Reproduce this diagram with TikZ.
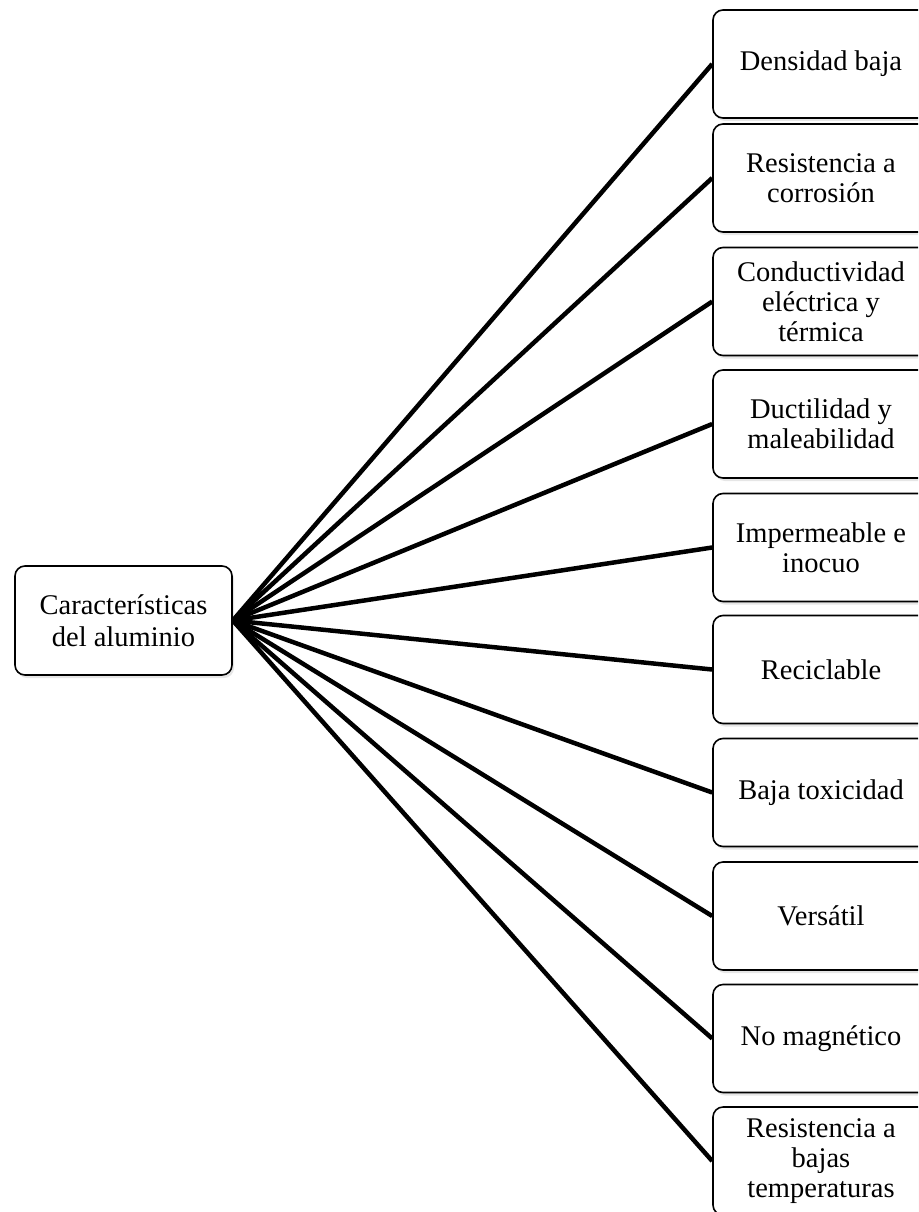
\documentclass[tikz,border=0pt]{standalone}
\usepackage{fontspec}
\setmainfont{Liberation Serif}
\usetikzlibrary{shadows}

\begin{document}
\begin{tikzpicture}[x=1pt, y=-1pt,
    prop/.style={rectangle, rounded corners=10pt, minimum width=216pt, minimum height=108pt,
      draw=black, line width=1.6pt, fill=white, align=center, inner sep=2pt,
      font=\fontsize{28.5}{30}\selectfont,
      drop shadow={opacity=0.2, shadow xshift=2pt, shadow yshift=-3pt}},
    branch/.style={line width=4.5pt, black}
  ]
    \useasboundingbox (0,0) rectangle (918,1212);
    \clip (0,0) rectangle (918,1212);

    % Central node
    \node[prop, minimum width=217pt, minimum height=109pt,
      font=\fontsize{28.5}{32}\selectfont] (hub) at (123.5,620.5) {Características\\del aluminio};

    % Properties
    \node[prop] (p1)  at (821,64)     {Densidad baja};
    \node[prop] (p2)  at (821,178)    {Resistencia a\\corrosión};
    \node[prop] (p3)  at (821,301.5)  {Conductividad\\eléctrica y\\térmica};
    \node[prop] (p4)  at (821,424)    {Ductilidad y\\maleabilidad};
    \node[prop] (p5)  at (821,547.5)  {Impermeable e\\inocuo};
    \node[prop] (p6)  at (821,669.5)  {Reciclable};
    \node[prop] (p7)  at (821,792.5)  {Baja toxicidad};
    \node[prop] (p8)  at (821,916)    {Versátil};
    \node[prop] (p9)  at (821,1038.5) {No magnético};
    \node[prop] (p10) at (821,1161)   {Resistencia a\\bajas\\temperaturas};

    % Branches
    \foreach \i in {1,...,10}
      \draw[branch] (hub.east) -- (p\i.west);

  \end{tikzpicture}
\end{document}
